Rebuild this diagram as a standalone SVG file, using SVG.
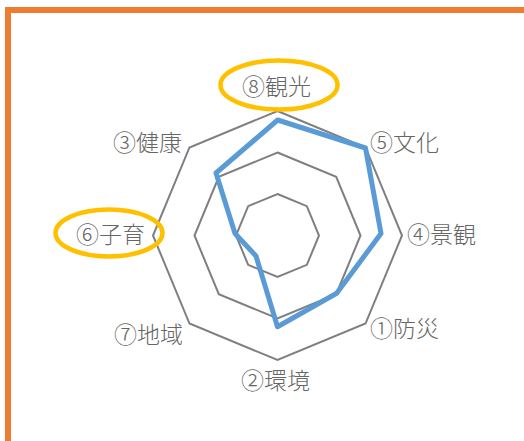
<svg xmlns="http://www.w3.org/2000/svg" width="524" height="441" viewBox="0 0 524 441">
  <style>
    .grid { fill: none; stroke: #7f7f7f; stroke-width: 2; stroke-linejoin: miter; }
    .data { fill: none; stroke: #5b9bd5; stroke-width: 5; stroke-linejoin: round; }
    .hl { fill: none; stroke: #ffc000; stroke-width: 4.5; }
    .lbl { font-family: "Noto Sans CJK JP", "Noto Sans", sans-serif; font-size: 23px; font-weight: 300; fill: #666666; dominant-baseline: central; }
    .frame { fill: none; stroke: #ed7d31; stroke-width: 6; }
  </style>
  <rect width="524" height="441" fill="#ffffff"/>
  <path class="frame" d="M8,441 V10 H524"/>
  <g id="grid">
    <polygon class="grid" points="277.5,111 365.53,147.47 402,235.5 365.53,323.53 277.5,360 189.47,323.53 153,235.5 189.47,147.47"/>
    <polygon class="grid" points="277.5,152.5 336.19,176.81 360.5,235.5 336.19,294.19 277.5,318.5 218.81,294.19 194.5,235.5 218.81,176.81"/>
    <polygon class="grid" points="277.5,194 306.84,206.16 319,235.5 306.84,264.84 277.5,277 248.16,264.84 236,235.5 248.16,206.16"/>
  </g>
  <g id="series">
    <polygon class="data" points="277.7,120 365.5,148 381,233.5 336.7,293.3 277.5,326.7 256,256 235,233.5 216,173"/>
  </g>
  <g id="highlights">
    <ellipse class="hl" cx="279" cy="85" rx="58.5" ry="24.5"/>
    <ellipse class="hl" cx="109" cy="233" rx="53.5" ry="23.5"/>
  </g>
  <g id="label-8"><text class="lbl" x="242" y="85">⑧観光</text></g>
  <g id="label-5"><text class="lbl" x="370" y="141">⑤文化</text></g>
  <g id="label-4"><text class="lbl" x="407" y="232.5">④景観</text></g>
  <g id="label-1"><text class="lbl" x="370" y="327">①防災</text></g>
  <g id="label-2"><text class="lbl" x="241" y="379">②環境</text></g>
  <g id="label-7"><text class="lbl" x="114" y="332.5">⑦地域</text></g>
  <g id="label-6"><text class="lbl" x="76" y="233">⑥子育</text></g>
  <g id="label-3"><text class="lbl" x="113" y="141">③健康</text></g>
</svg>
